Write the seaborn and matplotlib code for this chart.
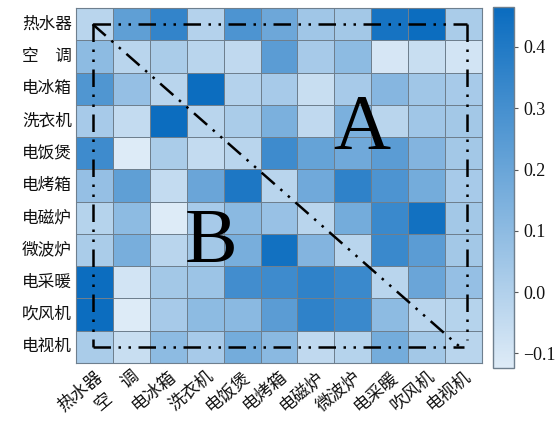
import numpy as np
import pandas as pd
import seaborn as sns
import matplotlib
matplotlib.use("Agg")
import matplotlib.pyplot as plt
from matplotlib.colors import LinearSegmentedColormap

labels = ["热水器", "空　调", "电冰箱", "洗衣机", "电饭煲", "电烤箱",
          "电磁炉", "微波炉", "电采暖", "吹风机", "电视机"]

row_water_heater = [-0.02, 0.23, 0.35, -0.005, 0.28, 0.19, 0.05, 0.04, 0.43, 0.46, 0.02]
row_air_cond     = [0.10, -0.02, 0.02, -0.02, -0.04, 0.24, 0.03, 0.10, -0.10, -0.06, -0.09]
row_fridge       = [0.27, 0.08, -0.02, 0.46, -0.005, 0.03, -0.06, 0.03, 0.12, 0.05, 0.03]
row_washer       = [0.03, -0.05, 0.46, -0.02, 0.02, 0.15, -0.04, 0.15, -0.02, 0.05, 0.04]
row_rice_cooker  = [0.32, -0.12, 0.02, -0.05, -0.02, 0.32, 0.21, 0.18, 0.24, 0.13, 0.04]
row_oven         = [0.08, 0.23, -0.05, 0.20, 0.41, -0.02, 0.18, 0.36, 0.28, 0.17, 0.03]
row_induction    = [-0.01, 0.10, -0.12, 0.03, 0.11, 0.07, -0.02, 0.17, 0.33, 0.44, 0.04]
row_microwave    = [0.02, 0.16, -0.02, 0.04, 0.16, 0.44, 0.13, -0.02, 0.33, 0.24, 0.04]
row_heater       = [0.46, -0.09, 0.04, 0.06, 0.31, 0.32, 0.36, 0.33, -0.02, 0.20, 0.08]
row_hair_dryer   = [0.46, -0.12, 0.03, 0.10, 0.11, 0.24, 0.36, 0.33, 0.10, -0.02, -0.01]
row_tv           = [0.02, -0.06, 0.10, 0.03, 0.17, 0.11, -0.04, -0.01, 0.17, 0.04, -0.02]

cbar_ticks = [-0.1, 0.0, 0.1, 0.2, 0.3, 0.4]
cbar_labels = ["\u22120.1", "0.0", "0.1", "0.2", "0.3", "0.4"]

data = pd.DataFrame([row_water_heater, row_air_cond, row_fridge, row_washer,
                     row_rice_cooker, row_oven, row_induction, row_microwave,
                     row_heater, row_hair_dryer, row_tv],
                    index=labels, columns=labels)

sns.set_style("white")
plt.rcParams['font.family'] = ['Noto Sans CJK SC', 'DejaVu Sans']
plt.rcParams['axes.unicode_minus'] = True
plt.rcParams['text.color'] = '#111111'
plt.rcParams['xtick.color'] = '#111111'
plt.rcParams['ytick.color'] = '#111111'

cmap = LinearSegmentedColormap.from_list("bl", ["#deebf7", "#0a6cbf"])

fig = plt.figure(figsize=(5.57, 4.22), dpi=100)
ax = fig.add_axes([0.1364, 0.1398, 0.729, 0.8412])
cax = fig.add_axes([0.885, 0.128, 0.0377, 0.855])

sns.heatmap(data, ax=ax, cbar_ax=cax, cmap=cmap, vmin=-0.124, vmax=0.465,
            linewidths=0.6, linecolor="#6e7f8e",
            cbar_kws={"ticks": cbar_ticks})

ax.tick_params(length=0, pad=3)
ax.set_yticklabels(labels, rotation=0, fontsize=12)
ax.set_xticklabels(labels, rotation=40, ha="right", rotation_mode="anchor", fontsize=12.5)
for s in ax.spines.values():
    s.set_visible(True)
    s.set_color("#6e7f8e")
    s.set_linewidth(0.8)

cb = ax.collections[0].colorbar
cb.outline.set_edgecolor("#6e7f8e")
cb.outline.set_linewidth(1.0)
cax.tick_params(length=3, width=0.8, color="#555555")
cax.set_yticks(cbar_ticks)
cax.set_yticklabels(cbar_labels, fontsize=13, family="Liberation Serif")

ls = (0, (7, 3, 1, 3, 1, 3))
lk = dict(color="black", lw=1.8, linestyle=ls)
x0, x1, y0, y1 = 0.45, 10.6, 0.5, 10.5
ax.plot([x0, x1], [y0, y0], **lk)
ax.plot([x0, x0], [y0, y1], **lk)
ax.plot([x0, 10.5], [y1, y1], **lk)
ax.plot([x1, x1], [y0, 10.3], **lk)
ax.plot([x0, 10.4], [y0, y1], **lk)

ax.text(7.75, 3.75, "A", fontsize=57, family="Liberation Serif", color="black",
        ha="center", va="center")
ax.text(3.65, 7.3, "B", fontsize=57, family="Liberation Serif", color="black",
        ha="center", va="center")

fig.savefig("out.png", dpi=100)
